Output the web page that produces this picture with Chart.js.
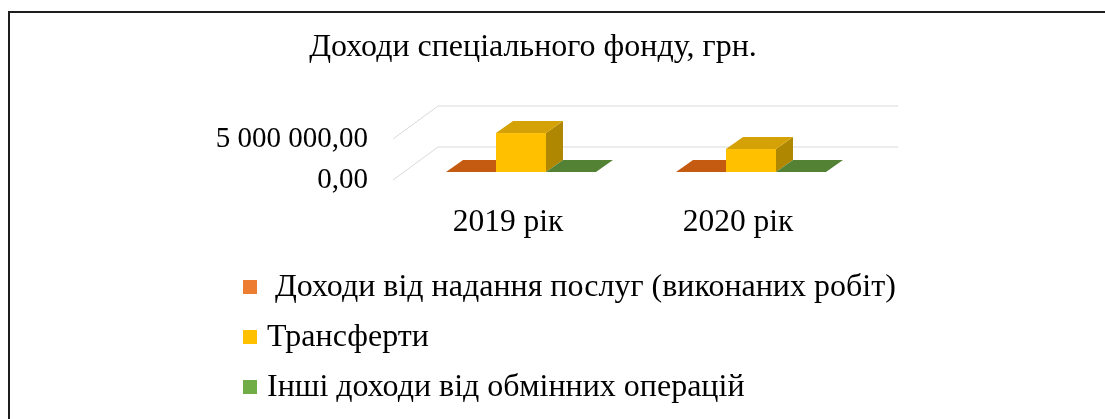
<!DOCTYPE html>
<html>
<head>
<meta charset="utf-8">
<script src="https://cdn.jsdelivr.net/npm/chart.js@4.4.1/dist/chart.umd.min.js"></script>
<style>
  html, body { margin: 0; padding: 0; background: #fff; overflow: hidden; }
  #wrap { position: relative; width: 1105px; height: 440px; }
  #frame { position: absolute; left: 8px; top: 11px; width: 1120px; height: 500px;
           border-left: 2px solid #1e1e1e; border-top: 2px solid #1e1e1e; pointer-events: none; }
  canvas { position: absolute; left: 0; top: 0; }
</style>
</head>
<body>
<div id="wrap">
  <canvas id="c" width="1105" height="440"></canvas>
  <div id="frame"></div>
</div>
<script>
// ---- data ----
const categories = ['2019 рік', '2020 рік'];
const seriesNames = [' Доходи від надання послуг (виконаних робіт)', 'Трансферти', 'Інші доходи від обмінних операцій'];
const serviceIncome = [0, 0];
const transfers = [4750000, 2800000];
const otherIncome = [0, 0];
const yTicks = [0, 5000000];
const titleText = 'Доходи спеціального фонду, грн.';

// ---- styles ----
const FONT = "'Liberation Serif', 'Times New Roman', serif";
const frontColors = ['#ED7D31', '#FFC000', '#70AD47'];
const topColors   = ['#C55A11', '#D4A106', '#548235'];
const sideColors  = ['#B35216', '#B08700', '#4A7530'];
const DEPTH = { x: 45, y: -33 };      // floor depth (oblique projection)
const BAR_FRONT = { x: 13, y: -8 };   // bar front offset from front plane
const BAR_DEPTH = { x: 17, y: -12 };  // bar depth
const LEGEND = { x: 243, y0: 287, step: 50, box: 14, gap: 10, size: 32 };

function fmt(v) {
  const s = Math.round(v).toString().replace(/\B(?=(\d{3})+(?!\d))/g, ' ');
  return s + ',00';
}

const grid3d = {
  id: 'grid3d',
  beforeDatasetsDraw(chart) {
    const { ctx, chartArea, scales } = chart;
    const y = scales.y;
    ctx.save();
    ctx.strokeStyle = '#d9d9d9';
    ctx.lineWidth = 1;
    y.ticks.forEach(t => {
      const py = y.getPixelForValue(t.value);
      ctx.beginPath();
      ctx.moveTo(chartArea.left, py);
      ctx.lineTo(chartArea.left + DEPTH.x, py + DEPTH.y);
      ctx.lineTo(chartArea.right + DEPTH.x, py + DEPTH.y);
      ctx.stroke();
    });
    ctx.restore();
  },
  beforeDatasetDraw() { return false; },
  afterDatasetsDraw(chart) {
    const { ctx } = chart;
    const metas = chart.data.datasets.map((d, i) => chart.getDatasetMeta(i));
    ctx.save();
    for (let c = 0; c < categories.length; c++) {
      metas.forEach((meta, di) => {
        const el = meta.data[c];
        if (!el) return;
        const w = el.width;
        const x0 = el.x - w / 2 + BAR_FRONT.x;
        const x1 = el.x + w / 2 + BAR_FRONT.x;
        const yt = Math.min(el.y, el.base) + BAR_FRONT.y;
        const yb = Math.max(el.y, el.base) + BAR_FRONT.y;
        const dx = BAR_DEPTH.x, dy = BAR_DEPTH.y;
        if (yb - yt > 0.5) {
          ctx.fillStyle = frontColors[di];
          ctx.fillRect(x0, yt, x1 - x0, yb - yt);
          ctx.fillStyle = sideColors[di];
          ctx.beginPath();
          ctx.moveTo(x1, yt); ctx.lineTo(x1 + dx, yt + dy);
          ctx.lineTo(x1 + dx, yb + dy); ctx.lineTo(x1, yb);
          ctx.closePath(); ctx.fill();
        }
        ctx.fillStyle = topColors[di];
        ctx.beginPath();
        ctx.moveTo(x0, yt); ctx.lineTo(x1, yt);
        ctx.lineTo(x1 + dx, yt + dy); ctx.lineTo(x0 + dx, yt + dy);
        ctx.closePath(); ctx.fill();
      });
    }
    ctx.restore();
  },
  afterDraw(chart) {
    // vertical legend built from the datasets
    const { ctx } = chart;
    ctx.save();
    ctx.font = LEGEND.size + 'px ' + FONT;
    ctx.textBaseline = 'middle';
    ctx.textAlign = 'left';
    chart.data.datasets.forEach((ds, i) => {
      const cy = LEGEND.y0 + i * LEGEND.step;
      ctx.fillStyle = ds.backgroundColor;
      ctx.fillRect(LEGEND.x, cy - LEGEND.box / 2, LEGEND.box, LEGEND.box);
      ctx.fillStyle = '#000';
      ctx.fillText(ds.label, LEGEND.x + LEGEND.box + LEGEND.gap, cy + 1);
    });
    ctx.restore();
  }
};

new Chart(document.getElementById('c'), {
  type: 'bar',
  data: {
    labels: categories,
    datasets: [
      { label: seriesNames[0], data: serviceIncome, backgroundColor: frontColors[0] },
      { label: seriesNames[1], data: transfers, backgroundColor: frontColors[1] },
      { label: seriesNames[2], data: otherIncome, backgroundColor: frontColors[2] }
    ]
  },
  options: {
    responsive: false,
    animation: false,
    categoryPercentage: 0.652,
    barPercentage: 1.0,
    layout: { padding: { left: 213, right: 252, top: 0, bottom: 190 } },
    plugins: {
      tooltip: { enabled: false },
      legend: { display: false },
      title: {
        display: true,
        text: titleText,
        color: '#000',
        font: { family: FONT, size: 32, weight: 'normal' },
        padding: { top: 28, bottom: 72.6 }
      }
    },
    scales: {
      x: {
        grid: { display: false, drawTicks: false },
        border: { display: false },
        ticks: { color: '#000', font: { family: FONT, size: 31.5 }, padding: 24 },
        afterFit(s) { s.height = 70; }
      },
      y: {
        min: 0,
        max: 5000000,
        grid: { display: false, drawTicks: false },
        border: { display: false },
        afterBuildTicks(s) { s.ticks = yTicks.map(v => ({ value: v })); },
        ticks: { color: '#000', font: { family: FONT, size: 29 }, padding: 25, callback: v => fmt(v) },
        afterFit(s) { s.width = 180; }
      }
    }
  },
  plugins: [grid3d]
});
</script>
</body>
</html>
